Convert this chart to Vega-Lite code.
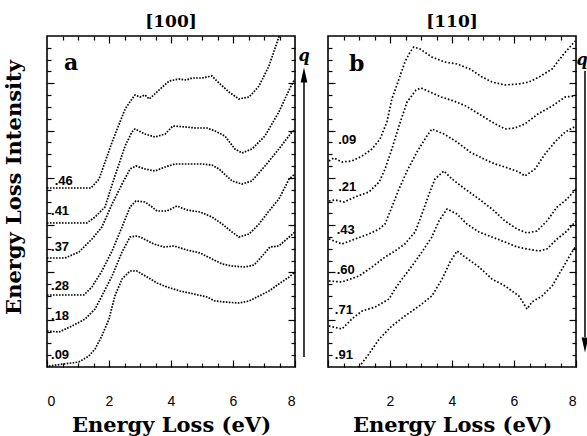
{
  "$schema": "https://vega.github.io/schema/vega-lite/v6.json",
  "background": "white",
  "padding": {"left": 2, "top": 12, "right": 0, "bottom": 0},
  "bounds": "flush",
  "spacing": 33,
  "config": {
    "view": {"stroke": "black", "strokeWidth": 1.6},
    "axis": {"domain": false, "grid": false, "ticks": true, "tickColor": "black", "tickWidth": 1.2, "labelColor": "black", "titleColor": "black", "labelFont": "Liberation Sans", "labelFontSize": 14, "titleFont": "DejaVu Serif", "titleFontWeight": "bold", "titleFontSize": 21},
    "title": {"font": "DejaVu Serif", "fontWeight": "bold", "fontSize": 17, "color": "black", "offset": 4}
  },
  "datasets": {
    "a": [
      {"s":"46","e":0,"i":179},{"s":"46","e":1.42,"i":179},{"s":"46","e":1.68,"i":188},{"s":"46","e":2.10,"i":225},{"s":"46","e":2.52,"i":258},{"s":"46","e":2.74,"i":268},{"s":"46","e":2.84,"i":272},{"s":"46","e":3.0,"i":270},{"s":"46","e":3.16,"i":272},{"s":"46","e":3.3,"i":268},{"s":"46","e":3.48,"i":273},{"s":"46","e":3.65,"i":278},{"s":"46","e":3.94,"i":286},{"s":"46","e":4.26,"i":288},{"s":"46","e":4.5,"i":287},{"s":"46","e":4.68,"i":289},{"s":"46","e":5.0,"i":289},{"s":"46","e":5.32,"i":291},{"s":"46","e":5.48,"i":286},{"s":"46","e":5.87,"i":275},{"s":"46","e":6.19,"i":268},{"s":"46","e":6.52,"i":270},{"s":"46","e":6.84,"i":281},{"s":"46","e":7.16,"i":301},{"s":"46","e":7.48,"i":330},{"s":"46","e":7.55,"i":336},
      {"s":"41","e":0,"i":144},{"s":"41","e":1.29,"i":144},{"s":"41","e":1.55,"i":150},{"s":"41","e":1.87,"i":160},{"s":"41","e":2.19,"i":191},{"s":"41","e":2.52,"i":221},{"s":"41","e":2.74,"i":235},{"s":"41","e":2.84,"i":238},{"s":"41","e":3.16,"i":233},{"s":"41","e":3.48,"i":230},{"s":"41","e":3.81,"i":233},{"s":"41","e":4.06,"i":241},{"s":"41","e":4.48,"i":240},{"s":"41","e":4.8,"i":239},{"s":"41","e":5.16,"i":239},{"s":"41","e":5.42,"i":236},{"s":"41","e":5.74,"i":231},{"s":"41","e":6.06,"i":218},{"s":"41","e":6.29,"i":214},{"s":"41","e":6.61,"i":218},{"s":"41","e":7.03,"i":231},{"s":"41","e":7.48,"i":255},{"s":"41","e":7.87,"i":281},{"s":"41","e":8.0,"i":288},
      {"s":"37","e":0,"i":109},{"s":"37","e":0.58,"i":109},{"s":"37","e":1.03,"i":115},{"s":"37","e":1.45,"i":128},{"s":"37","e":1.77,"i":140},{"s":"37","e":2.10,"i":163},{"s":"37","e":2.42,"i":183},{"s":"37","e":2.68,"i":198},{"s":"37","e":2.87,"i":201},{"s":"37","e":3.16,"i":198},{"s":"37","e":3.48,"i":196},{"s":"37","e":3.81,"i":200},{"s":"37","e":4.13,"i":203},{"s":"37","e":4.52,"i":203},{"s":"37","e":5.0,"i":203},{"s":"37","e":5.32,"i":202},{"s":"37","e":5.55,"i":198},{"s":"37","e":5.97,"i":186},{"s":"37","e":6.29,"i":183},{"s":"37","e":6.61,"i":186},{"s":"37","e":7.03,"i":201},{"s":"37","e":7.48,"i":218},{"s":"37","e":7.90,"i":235},{"s":"37","e":8.0,"i":237},
      {"s":"28","e":0,"i":72},{"s":"28","e":1.19,"i":72},{"s":"28","e":1.45,"i":80},{"s":"28","e":1.77,"i":96},{"s":"28","e":2.10,"i":116},{"s":"28","e":2.42,"i":140},{"s":"28","e":2.68,"i":160},{"s":"28","e":2.87,"i":166},{"s":"28","e":3.16,"i":165},{"s":"28","e":3.39,"i":160},{"s":"28","e":3.55,"i":156},{"s":"28","e":3.87,"i":156},{"s":"28","e":4.19,"i":161},{"s":"28","e":4.52,"i":157},{"s":"28","e":4.94,"i":155},{"s":"28","e":5.32,"i":150},{"s":"28","e":5.65,"i":143},{"s":"28","e":5.97,"i":135},{"s":"28","e":6.19,"i":130},{"s":"28","e":6.52,"i":133},{"s":"28","e":6.84,"i":143},{"s":"28","e":7.16,"i":156},{"s":"28","e":7.48,"i":168},{"s":"28","e":7.81,"i":188},{"s":"28","e":8.0,"i":193},
      {"s":"18","e":0,"i":36},{"s":"18","e":0.39,"i":35},{"s":"18","e":0.81,"i":41},{"s":"18","e":1.23,"i":48},{"s":"18","e":1.55,"i":58},{"s":"18","e":1.77,"i":71},{"s":"18","e":2.10,"i":91},{"s":"18","e":2.42,"i":115},{"s":"18","e":2.68,"i":130},{"s":"18","e":2.87,"i":131},{"s":"18","e":3.0,"i":130},{"s":"18","e":3.45,"i":123},{"s":"18","e":3.77,"i":120},{"s":"18","e":4.10,"i":121},{"s":"18","e":4.52,"i":117},{"s":"18","e":4.94,"i":114},{"s":"18","e":5.32,"i":108},{"s":"18","e":5.65,"i":103},{"s":"18","e":5.97,"i":101},{"s":"18","e":6.39,"i":100},{"s":"18","e":6.68,"i":102},{"s":"18","e":6.94,"i":111},{"s":"18","e":7.19,"i":120},{"s":"18","e":7.48,"i":121},{"s":"18","e":7.81,"i":130},{"s":"18","e":8.0,"i":135},
      {"s":"09","e":0.06,"i":1},{"s":"09","e":1.03,"i":5},{"s":"09","e":1.35,"i":11},{"s":"09","e":1.55,"i":18},{"s":"09","e":1.77,"i":31},{"s":"09","e":2.0,"i":48},{"s":"09","e":2.19,"i":71},{"s":"09","e":2.42,"i":88},{"s":"09","e":2.68,"i":96},{"s":"09","e":2.90,"i":96},{"s":"09","e":3.23,"i":90},{"s":"09","e":3.55,"i":84},{"s":"09","e":3.87,"i":80},{"s":"09","e":4.29,"i":76},{"s":"09","e":4.74,"i":73},{"s":"09","e":5.16,"i":70},{"s":"09","e":5.42,"i":66},{"s":"09","e":5.74,"i":65},{"s":"09","e":6.19,"i":64},{"s":"09","e":6.52,"i":66},{"s":"09","e":6.84,"i":71},{"s":"09","e":7.16,"i":76},{"s":"09","e":7.48,"i":83},{"s":"09","e":7.81,"i":90},{"s":"09","e":8.0,"i":95}
    ],
    "b": [
      {"s":"09","e":0.03,"i":206},{"s":"09","e":0.19,"i":209},{"s":"09","e":0.45,"i":205},{"s":"09","e":0.77,"i":206},{"s":"09","e":1.10,"i":211},{"s":"09","e":1.42,"i":218},{"s":"09","e":1.68,"i":228},{"s":"09","e":1.90,"i":245},{"s":"09","e":2.06,"i":268},{"s":"09","e":2.29,"i":288},{"s":"09","e":2.48,"i":305},{"s":"09","e":2.65,"i":315},{"s":"09","e":2.77,"i":320},{"s":"09","e":2.97,"i":318},{"s":"09","e":3.35,"i":310},{"s":"09","e":3.77,"i":305},{"s":"09","e":4.16,"i":303},{"s":"09","e":4.58,"i":298},{"s":"09","e":4.97,"i":290},{"s":"09","e":5.29,"i":285},{"s":"09","e":5.71,"i":282},{"s":"09","e":6.16,"i":283},{"s":"09","e":6.48,"i":285},{"s":"09","e":6.81,"i":290},{"s":"09","e":7.23,"i":298},{"s":"09","e":7.55,"i":311},{"s":"09","e":7.97,"i":326},
      {"s":"21","e":0.03,"i":166},{"s":"21","e":0.23,"i":167},{"s":"21","e":0.52,"i":165},{"s":"21","e":0.87,"i":170},{"s":"21","e":1.32,"i":175},{"s":"21","e":1.65,"i":185},{"s":"21","e":1.84,"i":198},{"s":"21","e":2.06,"i":218},{"s":"21","e":2.29,"i":241},{"s":"21","e":2.55,"i":265},{"s":"21","e":2.84,"i":277},{"s":"21","e":3.0,"i":279},{"s":"21","e":3.29,"i":275},{"s":"21","e":3.65,"i":270},{"s":"21","e":4.06,"i":266},{"s":"21","e":4.45,"i":261},{"s":"21","e":4.87,"i":253},{"s":"21","e":5.29,"i":245},{"s":"21","e":5.71,"i":238},{"s":"21","e":6.03,"i":239},{"s":"21","e":6.35,"i":243},{"s":"21","e":6.77,"i":253},{"s":"21","e":7.23,"i":261},{"s":"21","e":7.65,"i":270},{"s":"21","e":7.97,"i":271},
      {"s":"43","e":0.03,"i":128},{"s":"43","e":0.45,"i":123},{"s":"43","e":0.87,"i":128},{"s":"43","e":1.32,"i":133},{"s":"43","e":1.65,"i":138},{"s":"43","e":1.84,"i":143},{"s":"43","e":2.06,"i":160},{"s":"43","e":2.29,"i":178},{"s":"43","e":2.55,"i":196},{"s":"43","e":2.87,"i":215},{"s":"43","e":3.19,"i":231},{"s":"43","e":3.35,"i":238},{"s":"43","e":3.74,"i":233},{"s":"43","e":4.16,"i":225},{"s":"43","e":4.58,"i":215},{"s":"43","e":5.03,"i":208},{"s":"43","e":5.39,"i":203},{"s":"43","e":5.71,"i":200},{"s":"43","e":6.16,"i":195},{"s":"43","e":6.35,"i":191},{"s":"43","e":6.68,"i":198},{"s":"43","e":7.0,"i":213},{"s":"43","e":7.32,"i":225},{"s":"43","e":7.65,"i":235},{"s":"43","e":8.0,"i":241},
      {"s":"60","e":0.03,"i":86},{"s":"60","e":0.45,"i":85},{"s":"60","e":1.0,"i":91},{"s":"60","e":1.42,"i":100},{"s":"60","e":1.84,"i":110},{"s":"60","e":2.16,"i":116},{"s":"60","e":2.48,"i":123},{"s":"60","e":2.81,"i":135},{"s":"60","e":3.03,"i":153},{"s":"60","e":3.26,"i":173},{"s":"60","e":3.45,"i":188},{"s":"60","e":3.74,"i":196},{"s":"60","e":4.0,"i":188},{"s":"60","e":4.42,"i":178},{"s":"60","e":4.87,"i":168},{"s":"60","e":5.29,"i":158},{"s":"60","e":5.71,"i":146},{"s":"60","e":6.10,"i":138},{"s":"60","e":6.42,"i":134},{"s":"60","e":6.74,"i":136},{"s":"60","e":7.06,"i":146},{"s":"60","e":7.39,"i":160},{"s":"60","e":7.71,"i":168},{"s":"60","e":8.0,"i":178},
      {"s":"71","e":0.03,"i":41},{"s":"71","e":0.45,"i":38},{"s":"71","e":0.77,"i":48},{"s":"71","e":1.10,"i":56},{"s":"71","e":1.52,"i":60},{"s":"71","e":1.97,"i":68},{"s":"71","e":2.16,"i":78},{"s":"71","e":2.39,"i":88},{"s":"71","e":2.71,"i":101},{"s":"71","e":3.03,"i":115},{"s":"71","e":3.35,"i":130},{"s":"71","e":3.58,"i":146},{"s":"71","e":3.84,"i":158},{"s":"71","e":4.16,"i":153},{"s":"71","e":4.48,"i":143},{"s":"71","e":4.87,"i":135},{"s":"71","e":5.29,"i":130},{"s":"71","e":5.71,"i":125},{"s":"71","e":6.10,"i":120},{"s":"71","e":6.42,"i":118},{"s":"71","e":6.81,"i":116},{"s":"71","e":7.06,"i":118},{"s":"71","e":7.39,"i":128},{"s":"71","e":7.71,"i":136},{"s":"71","e":8.0,"i":146},
      {"s":"91","e":1.0,"i":0},{"s":"91","e":1.32,"i":13},{"s":"91","e":1.65,"i":28},{"s":"91","e":2.06,"i":41},{"s":"91","e":2.48,"i":51},{"s":"91","e":2.94,"i":61},{"s":"91","e":3.35,"i":71},{"s":"91","e":3.68,"i":88},{"s":"91","e":3.94,"i":105},{"s":"91","e":4.16,"i":116},{"s":"91","e":4.42,"i":110},{"s":"91","e":4.87,"i":100},{"s":"91","e":5.29,"i":88},{"s":"91","e":5.71,"i":81},{"s":"91","e":6.16,"i":71},{"s":"91","e":6.42,"i":58},{"s":"91","e":6.58,"i":65},{"s":"91","e":6.90,"i":71},{"s":"91","e":7.23,"i":81},{"s":"91","e":7.55,"i":98},{"s":"91","e":7.87,"i":115},{"s":"91","e":8.0,"i":121}
    ],
    "la": [{"e":0.25,"i":186,"t":".46"},{"e":0.13,"i":156,"t":".41"},{"e":0.13,"i":120,"t":".37"},{"e":0.13,"i":81,"t":".28"},{"e":0.13,"i":51,"t":".18"},{"e":0.13,"i":12,"t":".09"}],
    "lb": [{"e":0.33,"i":227,"t":".09"},{"e":0.33,"i":180,"t":".21"},{"e":0.28,"i":137,"t":".43"},{"e":0.28,"i":97,"t":".60"},{"e":0.22,"i":57,"t":".71"},{"e":0.22,"i":12,"t":".91"}],
    "shaftA": [{"e":8.29,"i1":10,"i2":285}],
    "headA": [{"e":8.29,"i":292}],
    "qA": [{"e":8.29,"i":311,"t":"q"}],
    "letA": [{"e":0.55,"i":304,"t":"a"}],
    "shaftB": [{"e":8.29,"i1":30,"i2":296}],
    "headB": [{"e":8.29,"i":22}],
    "qB": [{"e":8.2,"i":307,"t":"q"}],
    "letB": [{"e":0.68,"i":303,"t":"b"}]
  },
  "hconcat": [
    {
      "width": 248, "height": 331,
      "title": {"text": "[100]"},
      "resolve": {"axis": {"x": "independent", "y": "independent"}},
      "layer": [
        {
          "data": {"name": "a"},
          "mark": {"type": "line", "clip": true, "color": "black", "strokeWidth": 1.7, "strokeDash": [1.6, 1.4]},
          "encoding": {
            "x": {"field": "e", "type": "quantitative", "scale": {"domain": [0, 8], "nice": false, "zero": false},
                  "axis": {"orient": "bottom", "offset": -7, "values": [0, 2, 4, 6, 8], "tickSize": 7, "labelPadding": 27, "title": "Energy Loss (eV)", "titlePadding": 6}},
            "y": {"field": "i", "type": "quantitative", "scale": {"domain": [0, 331], "nice": false, "zero": false},
                  "axis": {"orient": "left", "offset": -7, "values": [47.29, 94.57, 141.86, 189.14, 236.43, 283.71], "tickSize": 7, "labels": false, "title": "Energy Loss Intensity", "titlePadding": 22, "titleY": 151}},
            "detail": {"field": "s", "type": "nominal"}
          }
        },
        {
          "data": {"name": "la"},
          "mark": {"type": "text", "align": "left", "baseline": "middle", "font": "Liberation Sans", "fontWeight": "bold", "fontSize": 13, "color": "black"},
          "encoding": {
            "x": {"field": "e", "type": "quantitative", "scale": {"domain": [0, 8], "nice": false, "zero": false},
                  "axis": {"orient": "bottom", "offset": -4, "values": [0.5, 1, 1.5, 2.5, 3, 3.5, 4.5, 5, 5.5, 6.5, 7, 7.5], "tickSize": 4, "labels": false, "title": null}},
            "y": {"field": "i", "type": "quantitative", "scale": {"domain": [0, 331], "nice": false, "zero": false},
                  "axis": {"orient": "left", "offset": -4, "values": [11.82, 23.64, 35.46, 59.11, 70.93, 82.75, 106.39, 118.21, 130.04, 153.68, 165.5, 177.32, 200.96, 212.79, 224.61, 248.25, 260.07, 271.89, 295.54, 307.36, 319.18], "tickSize": 4, "labels": false, "title": null}},
            "text": {"field": "t"}
          }
        },
        {
          "data": {"name": "shaftA"},
          "mark": {"type": "rule", "clip": false, "color": "black", "strokeWidth": 1.5},
          "encoding": {
            "x": {"field": "e", "type": "quantitative", "scale": {"domain": [0, 8], "nice": false, "zero": false},
                  "axis": {"orient": "top", "offset": -7, "values": [2, 4, 6], "tickSize": 7, "labels": false, "title": null}},
            "y": {"field": "i1", "type": "quantitative", "scale": {"domain": [0, 331], "nice": false, "zero": false},
                  "axis": {"orient": "right", "offset": -7, "values": [47.29, 94.57, 141.86, 189.14, 236.43, 283.71], "tickSize": 7, "labels": false, "title": null}},
            "y2": {"field": "i2"}
          }
        },
        {
          "data": {"name": "headA"},
          "mark": {"type": "point", "clip": false, "filled": true, "color": "black", "opacity": 1, "shape": "M0,-1L0.45,1L-0.45,1Z", "size": 225},
          "encoding": {
            "x": {"field": "e", "type": "quantitative", "scale": {"domain": [0, 8], "nice": false, "zero": false},
                  "axis": {"orient": "top", "offset": -4, "values": [0.5, 1, 1.5, 2.5, 3, 3.5, 4.5, 5, 5.5, 6.5, 7, 7.5], "tickSize": 4, "labels": false, "title": null}},
            "y": {"field": "i", "type": "quantitative", "scale": {"domain": [0, 331], "nice": false, "zero": false},
                  "axis": {"orient": "right", "offset": -4, "values": [11.82, 23.64, 35.46, 59.11, 70.93, 82.75, 106.39, 118.21, 130.04, 153.68, 165.5, 177.32, 200.96, 212.79, 224.61, 248.25, 260.07, 271.89, 295.54, 307.36, 319.18], "tickSize": 4, "labels": false, "title": null}}
          }
        },
        {
          "data": {"name": "qA"},
          "mark": {"type": "text", "clip": false, "font": "DejaVu Serif", "fontWeight": "bold", "fontStyle": "italic", "fontSize": 16, "color": "black", "baseline": "middle"},
          "encoding": {
            "x": {"field": "e", "type": "quantitative", "scale": {"domain": [0, 8], "nice": false, "zero": false}, "axis": null},
            "y": {"field": "i", "type": "quantitative", "scale": {"domain": [0, 331], "nice": false, "zero": false}, "axis": null},
            "text": {"field": "t"}
          }
        },
        {
          "data": {"name": "letA"},
          "mark": {"type": "text", "align": "left", "baseline": "middle", "font": "DejaVu Serif", "fontWeight": "bold", "fontSize": 22, "color": "black"},
          "encoding": {
            "x": {"field": "e", "type": "quantitative", "scale": {"domain": [0, 8], "nice": false, "zero": false}, "axis": null},
            "y": {"field": "i", "type": "quantitative", "scale": {"domain": [0, 331], "nice": false, "zero": false}, "axis": null},
            "text": {"field": "t"}
          }
        }
      ]
    },
    {
      "width": 248, "height": 331,
      "title": {"text": "[110]"},
      "resolve": {"axis": {"x": "independent", "y": "independent"}},
      "layer": [
        {
          "data": {"name": "b"},
          "mark": {"type": "line", "clip": true, "color": "black", "strokeWidth": 1.7, "strokeDash": [1.6, 2]},
          "encoding": {
            "x": {"field": "e", "type": "quantitative", "scale": {"domain": [0, 8], "nice": false, "zero": false},
                  "axis": {"orient": "bottom", "offset": -7, "values": [0, 2, 4, 6, 8], "labelExpr": "datum.value == 0 ? '' : datum.label", "tickSize": 7, "labelPadding": 27, "title": "Energy Loss (eV)", "titlePadding": 6}},
            "y": {"field": "i", "type": "quantitative", "scale": {"domain": [0, 331], "nice": false, "zero": false},
                  "axis": {"orient": "left", "offset": -7, "values": [47.29, 94.57, 141.86, 189.14, 236.43, 283.71], "tickSize": 7, "labels": false, "title": null}},
            "detail": {"field": "s", "type": "nominal"}
          }
        },
        {
          "data": {"name": "lb"},
          "mark": {"type": "text", "align": "left", "baseline": "middle", "font": "Liberation Sans", "fontWeight": "bold", "fontSize": 13, "color": "black"},
          "encoding": {
            "x": {"field": "e", "type": "quantitative", "scale": {"domain": [0, 8], "nice": false, "zero": false},
                  "axis": {"orient": "bottom", "offset": -4, "values": [0.5, 1, 1.5, 2.5, 3, 3.5, 4.5, 5, 5.5, 6.5, 7, 7.5], "tickSize": 4, "labels": false, "title": null}},
            "y": {"field": "i", "type": "quantitative", "scale": {"domain": [0, 331], "nice": false, "zero": false},
                  "axis": {"orient": "left", "offset": -4, "values": [11.82, 23.64, 35.46, 59.11, 70.93, 82.75, 106.39, 118.21, 130.04, 153.68, 165.5, 177.32, 200.96, 212.79, 224.61, 248.25, 260.07, 271.89, 295.54, 307.36, 319.18], "tickSize": 4, "labels": false, "title": null}},
            "text": {"field": "t"}
          }
        },
        {
          "data": {"name": "shaftB"},
          "mark": {"type": "rule", "clip": false, "color": "black", "strokeWidth": 1.5},
          "encoding": {
            "x": {"field": "e", "type": "quantitative", "scale": {"domain": [0, 8], "nice": false, "zero": false},
                  "axis": {"orient": "top", "offset": -7, "values": [2, 4, 6], "tickSize": 7, "labels": false, "title": null}},
            "y": {"field": "i1", "type": "quantitative", "scale": {"domain": [0, 331], "nice": false, "zero": false},
                  "axis": {"orient": "right", "offset": -7, "values": [47.29, 94.57, 141.86, 189.14, 236.43, 283.71], "tickSize": 7, "labels": false, "title": null}},
            "y2": {"field": "i2"}
          }
        },
        {
          "data": {"name": "headB"},
          "mark": {"type": "point", "clip": false, "filled": true, "color": "black", "opacity": 1, "shape": "M0,1L0.45,-1L-0.45,-1Z", "size": 225},
          "encoding": {
            "x": {"field": "e", "type": "quantitative", "scale": {"domain": [0, 8], "nice": false, "zero": false},
                  "axis": {"orient": "top", "offset": -4, "values": [0.5, 1, 1.5, 2.5, 3, 3.5, 4.5, 5, 5.5, 6.5, 7, 7.5], "tickSize": 4, "labels": false, "title": null}},
            "y": {"field": "i", "type": "quantitative", "scale": {"domain": [0, 331], "nice": false, "zero": false},
                  "axis": {"orient": "right", "offset": -4, "values": [11.82, 23.64, 35.46, 59.11, 70.93, 82.75, 106.39, 118.21, 130.04, 153.68, 165.5, 177.32, 200.96, 212.79, 224.61, 248.25, 260.07, 271.89, 295.54, 307.36, 319.18], "tickSize": 4, "labels": false, "title": null}}
          }
        },
        {
          "data": {"name": "qB"},
          "mark": {"type": "text", "clip": false, "font": "DejaVu Serif", "fontWeight": "bold", "fontStyle": "italic", "fontSize": 16, "color": "black", "baseline": "middle"},
          "encoding": {
            "x": {"field": "e", "type": "quantitative", "scale": {"domain": [0, 8], "nice": false, "zero": false}, "axis": null},
            "y": {"field": "i", "type": "quantitative", "scale": {"domain": [0, 331], "nice": false, "zero": false}, "axis": null},
            "text": {"field": "t"}
          }
        },
        {
          "data": {"name": "letB"},
          "mark": {"type": "text", "align": "left", "baseline": "middle", "font": "DejaVu Serif", "fontWeight": "bold", "fontSize": 22, "color": "black"},
          "encoding": {
            "x": {"field": "e", "type": "quantitative", "scale": {"domain": [0, 8], "nice": false, "zero": false}, "axis": null},
            "y": {"field": "i", "type": "quantitative", "scale": {"domain": [0, 331], "nice": false, "zero": false}, "axis": null},
            "text": {"field": "t"}
          }
        }
      ]
    }
  ]
}
